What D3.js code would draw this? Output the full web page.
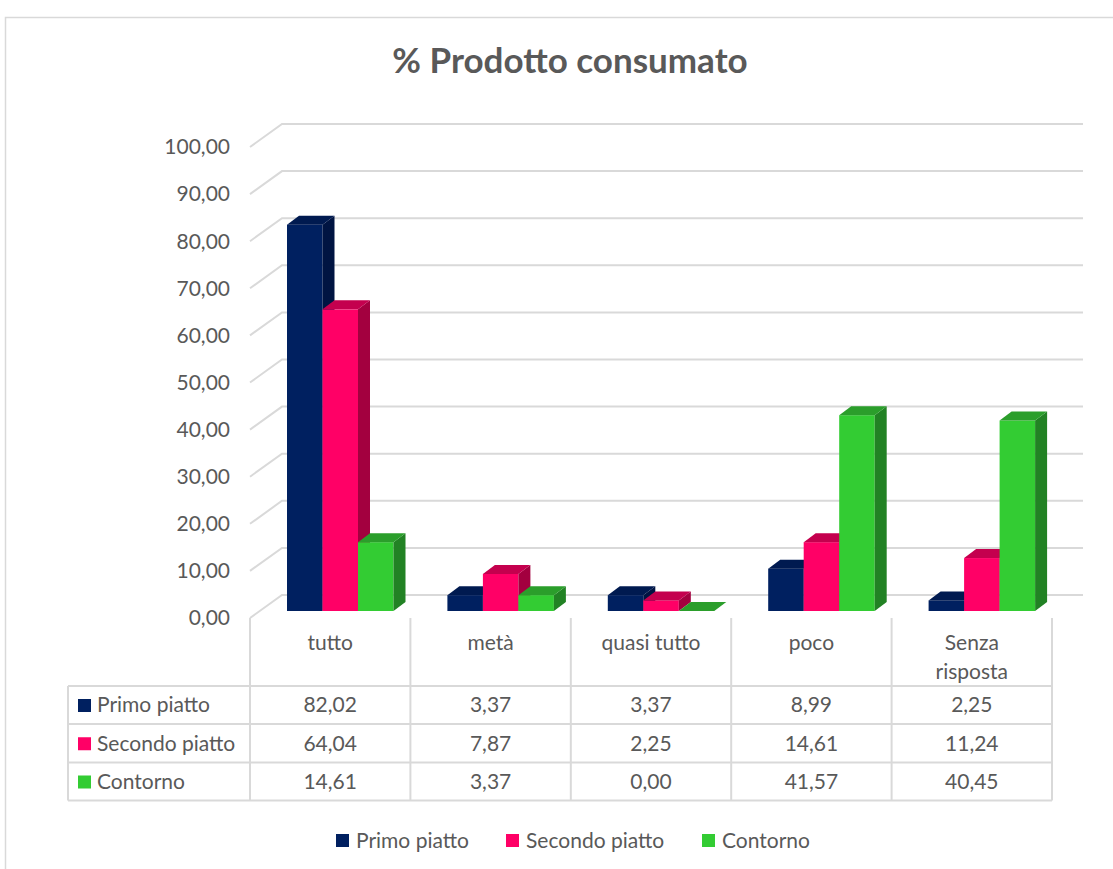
<!DOCTYPE html>
<html>
<head>
  <meta charset="utf-8">
  <script src="https://cdn.jsdelivr.net/npm/d3@7"></script>
  <style>
    body { margin: 0; background: #fff; }
    text { font-family: Lato, "Open Sans", sans-serif; fill: #595959; }
  </style>
</head>
<body>
<svg width="1113" height="869"></svg>

<script>
// data
var categories = ["tutto", "metà", "quasi tutto", "poco", "Senza risposta"];
var seriesNames = ["Primo piatto", "Secondo piatto", "Contorno"];
var primo   = [82.02, 3.37, 3.37, 8.99, 2.25];
var secondo = [64.04, 7.87, 2.25, 14.61, 11.24];
var contorno = [14.61, 3.37, 0.00, 41.57, 40.45];
var yTicks = [0, 10, 20, 30, 40, 50, 60, 70, 80, 90, 100];

var seriesValues = [primo, secondo, contorno];
// front, top, side shades for each series
var colors = [
  { front: "#002060", top: "#001a50", side: "#001442" },
  { front: "#FF0066", top: "#C4004E", side: "#A3003F" },
  { front: "#33CC33", top: "#2B9E2B", side: "#228224" }
];

var svg = d3.select("svg");
var grid = "#d9d9d9";

// outer chart frame (runs off the picture at right and bottom)
svg.append("rect")
    .attr("x", 5.5).attr("y", 17.5)
    .attr("width", 1200).attr("height", 1000)
    .attr("fill", "none").attr("stroke", grid).attr("stroke-width", 1.5);

svg.append("text")
    .attr("x", 570).attr("y", 73)
    .attr("text-anchor", "middle")
    .style("font-size", "35px").style("font-weight", "bold")
    .text("% Prodotto consumato");

// 3D geometry: front floor plane, wall depth offset and bar slab
var depthX = 32, depthY = -23;
var barOffX = 10, barOffY = -7, barDX = 12, barDY = -9;
var wallRight = 1083;

var x0 = d3.scaleBand().domain(categories).range([250, 1052]);
var x1 = d3.scaleBand().domain(seriesNames).range([27, 133.5]);
var y = d3.scaleLinear().domain([0, 100]).range([618, 147]);

// gridlines: diagonal on the side wall, then across the back wall
var gl = svg.append("g");
yTicks.forEach(function(t) {
  gl.append("polyline")
      .attr("points", [[250, y(t)], [250 + depthX, y(t) + depthY], [wallRight, y(t) + depthY]].join(" "))
      .attr("fill", "none").attr("stroke", grid).attr("stroke-width", 2);
});

// y axis labels
svg.append("g").selectAll("text")
  .data(yTicks)
  .enter().append("text")
    .attr("x", 230)
    .attr("y", function(d) { return y(d); })
    .attr("dy", "0.35em")
    .attr("text-anchor", "end")
    .style("font-size", "21px")
    .text(function(d) { return d3.format(".2f")(d).replace(".", ","); });

// bars
var bars = svg.append("g");
categories.forEach(function(c, ci) {
  seriesNames.forEach(function(s, si) {
    var v = seriesValues[si][ci];
    var xl = x0(c) + barOffX + x1(s);
    var xr = xl + x1.bandwidth();
    var yt = y(v) + barOffY;
    var yb = y(0) + barOffY;
    var col = colors[si];
    bars.append("rect")
        .attr("x", xl).attr("y", yt)
        .attr("width", xr - xl).attr("height", yb - yt)
        .attr("fill", col.front);
    bars.append("polygon")
        .attr("points", [[xr, yt], [xr + barDX, yt + barDY], [xr + barDX, yb + barDY], [xr, yb]].join(" "))
        .attr("fill", col.side);
    bars.append("polygon")
        .attr("points", [[xl, yt], [xr, yt], [xr + barDX, yt + barDY], [xl + barDX, yt + barDY]].join(" "))
        .attr("fill", col.top);
  });
});

// data table
var rowTop = [686, 724, 762.5];
var rowBottom = 800.5;
var table = svg.append("g");
var colEdges = categories.map(function(c) { return x0(c); }).concat([x0.range()[1]]);

colEdges.forEach(function(xe) {
  table.append("line")
      .attr("x1", xe).attr("x2", xe).attr("y1", 618).attr("y2", rowBottom)
      .attr("stroke", grid).attr("stroke-width", 2);
});
table.append("line")
    .attr("x1", 68).attr("x2", 68).attr("y1", rowTop[0]).attr("y2", rowBottom)
    .attr("stroke", grid).attr("stroke-width", 2);
rowTop.concat([rowBottom]).forEach(function(yy) {
  table.append("line")
      .attr("x1", 68).attr("x2", 1052).attr("y1", yy).attr("y2", yy)
      .attr("stroke", grid).attr("stroke-width", 2);
});

// category labels
categories.forEach(function(c) {
  var words = c === "Senza risposta" ? ["Senza", "risposta"] : [c];
  var t = table.append("text")
      .attr("x", x0(c) + x0.bandwidth() / 2)
      .attr("y", 650)
      .attr("text-anchor", "middle")
      .style("font-size", "21px");
  words.forEach(function(w, i) {
    t.append("tspan").attr("x", x0(c) + x0.bandwidth() / 2).attr("dy", i ? 29 : 0).text(w);
  });
});

// rows: legend key + series name + values
seriesNames.forEach(function(s, si) {
  var cy = (rowTop[si] + (si < 2 ? rowTop[si + 1] : rowBottom)) / 2;
  table.append("rect")
      .attr("x", 78).attr("y", cy - 6).attr("width", 13).attr("height", 13)
      .attr("fill", colors[si].front);
  table.append("text")
      .attr("x", 97).attr("y", cy).attr("dy", "0.35em")
      .style("font-size", "21px")
      .text(s);
  categories.forEach(function(c, ci) {
    table.append("text")
        .attr("x", x0(c) + x0.bandwidth() / 2).attr("y", cy).attr("dy", "0.35em")
        .attr("text-anchor", "middle")
        .style("font-size", "21px")
        .text(d3.format(".2f")(seriesValues[si][ci]).replace(".", ","));
  });
});

// legend at bottom
var legendX = [336, 506, 702];
var legend = svg.append("g");
seriesNames.forEach(function(s, si) {
  legend.append("rect")
      .attr("x", legendX[si]).attr("y", 834).attr("width", 13).attr("height", 13)
      .attr("fill", colors[si].front);
  legend.append("text")
      .attr("x", legendX[si] + 20).attr("y", 841).attr("dy", "0.35em")
      .style("font-size", "21px")
      .text(s);
});
</script>
</body>
</html>
